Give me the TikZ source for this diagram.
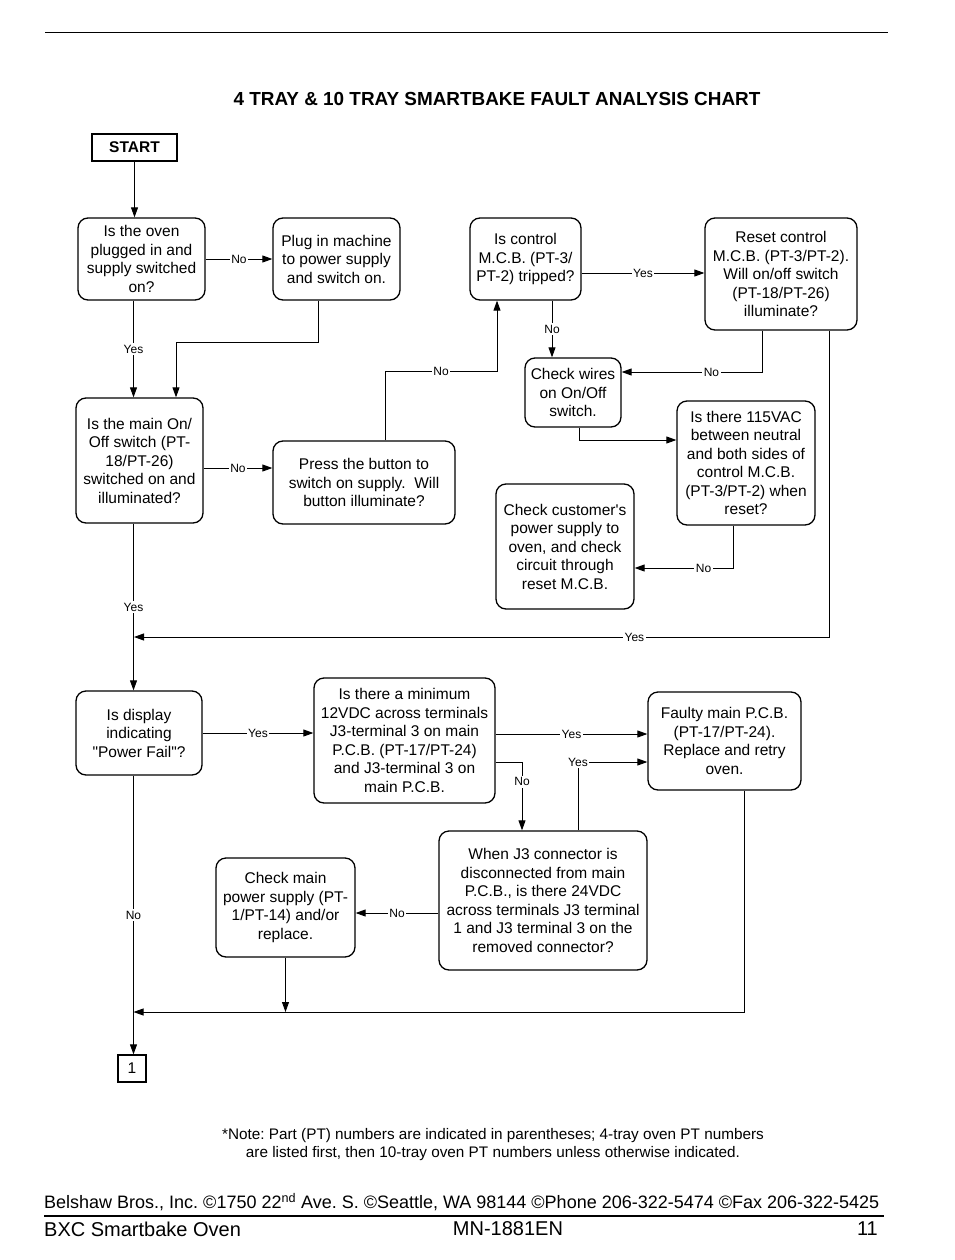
\documentclass[tikz,border=0pt]{standalone}
\usepackage{fontspec}
\setmainfont{Liberation Sans}[Ligatures=TeXOff]
\usetikzlibrary{arrows.meta}
\frenchspacing
\begin{document}
\begin{tikzpicture}[x=1pt,y=-1pt,
  box/.style={draw, line width=1.3pt, rounded corners=10pt, align=center, inner sep=1pt,
    font=\fontsize{15.5}{18.5}\selectfont},
  sqbox/.style={draw, line width=1.3pt, align=center, inner sep=1pt},
  conn/.style={line width=0.9pt, -{Triangle[length=10pt,width=7pt]}},
  lab/.style={fill=white, inner sep=1.5pt, font=\fontsize{12}{14}\selectfont}]
\useasboundingbox (0,0) rectangle (954,1260);
\fill[white] (0,0) rectangle (954,1260);
% top rule and title
\draw[line width=0.8pt] (45,32) -- (888,32);
\node[font=\bfseries\fontsize{18.9}{21}\selectfont] (title) at (497,99) {4 TRAY \& 10 TRAY SMARTBAKE FAULT ANALYSIS CHART};
% nodes
\node[sqbox, minimum width=85, minimum height=27, font=\bfseries\fontsize{15.5}{18}\selectfont] (start) at (134.5,147.5) {START};
\node[box, minimum width=127, minimum height=82] (b1) at (141.5,259) {Is the oven\\plugged in and\\supply switched\\on?};
\node[box, minimum width=127, minimum height=82] (b2) at (336.5,259) {Plug in machine\\to power supply\\and switch on.};
\node[box, minimum width=111, minimum height=82] (b3) at (525.5,259) {Is control\\M.C.B. (PT-3/\\PT-2) tripped?};
\node[box, minimum width=152, minimum height=112] (b4) at (781,274) {Reset control\\M.C.B. (PT-3/PT-2).\\Will on/off switch\\(PT-18/PT-26)\\illuminate?};
\node[box, minimum width=96, minimum height=69] (b5) at (573,392.5) {Check wires\\on On/Off\\switch.};
\node[box, minimum width=127, minimum height=125] (b6) at (139.5,460.5) {Is the main On/\\Off switch (PT-\\18/PT-26)\\switched on and\\illuminated?};
\node[box, minimum width=182, minimum height=83] (b7) at (364,482.5) {Press the button to\\switch on supply.~~Will\\button illuminate?};
\node[box, minimum width=138, minimum height=124] (b8) at (746,463) {Is there 115VAC\\between neutral\\and both sides of\\control M.C.B.\\(PT-3/PT-2) when\\reset?};
\node[box, minimum width=138, minimum height=125] (b9) at (565,546.5) {Check customer's\\power supply to\\oven, and check\\circuit through\\reset M.C.B.};
\node[box, minimum width=126, minimum height=84] (b10) at (139,733) {Is display\\indicating\\"Power Fail"?};
\node[box, minimum width=181, minimum height=125] (b11) at (404.5,740.5) {Is there a minimum\\12VDC across terminals\\J3-terminal 3 on main\\P.C.B. (PT-17/PT-24)\\and J3-terminal 3 on\\main P.C.B.};
\node[box, minimum width=153, minimum height=98] (b12) at (724.5,741) {Faulty main P.C.B.\\(PT-17/PT-24).\\Replace and retry\\oven.};
\node[box, minimum width=208, minimum height=139] (b13) at (543,900.5) {When J3 connector is\\disconnected from main\\P.C.B., is there 24VDC\\across terminals J3 terminal\\1 and J3 terminal 3 on the\\removed connector?};
\node[box, minimum width=139, minimum height=99] (b14) at (285.5,907.5) {Check main\\power supply (PT-\\1/PT-14) and/or\\replace.};
\node[sqbox, minimum width=28, minimum height=27, font=\fontsize{15.5}{18}\selectfont] (one) at (132,1068.5) {1};
% helper coordinates
\coordinate (colA) at (133.5,0);
\coordinate (hl) at (0,1012);
\coordinate (p2b) at ([xshift=-18.5pt]b2.south);
\coordinate (p6t) at ([xshift=36.5pt]b6.north);
\coordinate (p6) at ([yshift=-7.5pt]b6.east);
\coordinate (p7) at ([xshift=21pt]b7.north);
\coordinate (p3) at ([xshift=-28.5pt]b3.south);
\coordinate (p3r) at ([yshift=-14pt]b3.east);
\coordinate (p3b) at ([xshift=26.5pt]b3.south);
\coordinate (p4b) at ([xshift=-19pt]b4.south);
\coordinate (p5r) at ([yshift=20.5pt]b5.east);
\coordinate (p5b) at ([xshift=6pt]b5.south);
\coordinate (p8l) at ([yshift=23pt]b8.west);
\coordinate (p8b) at ([xshift=-13pt]b8.south);
\coordinate (p9r) at ([yshift=-21.5pt]b9.east);
\coordinate (p4b2) at ([xshift=48pt]b4.south);
\coordinate (j1) at (134,637);
\coordinate (p11r) at ([yshift=6.5pt]b11.east);
\coordinate (p11r2) at ([yshift=-21.5pt]b11.east);
\coordinate (p13t) at ([xshift=-21pt]b13.north);
\coordinate (p13t2) at ([xshift=35pt]b13.north);
\coordinate (p12l) at ([yshift=-21pt]b12.west);
\coordinate (p13l) at ([yshift=-12.5pt]b13.west);
\coordinate (p12b) at ([xshift=19.5pt]b12.south);
% connectors
\draw[conn] (start.south) -- (start.south |- b1.north);
\draw[conn] (b1.east) -- node[lab]{No} (b2.west);
\draw[conn] (b1.south -| colA) -- node[lab]{Yes} (b6.north -| colA);
\draw[conn] (p2b) -- ++(0,42) -| (p6t);
\draw[conn] (p6) -- node[lab]{No} (p6 -| b7.west);
\draw[conn] (p7) -- ++(0,-69) -| node[lab,pos=0.25]{No} (p3);
\draw[conn] (p3r) -- node[lab]{Yes} (p3r -| b4.west);
\draw[conn] (p3b) -- node[lab]{No} (p3b |- b5.north);
\draw[conn] (p4b) |- node[lab,pos=0.68]{No} (p5r);
\draw[conn] (p5b) |- (p8l);
\draw[conn] (p8b) |- node[lab,pos=0.65]{No} (p9r);
\draw[conn] (p4b2) |- node[lab,pos=0.64]{Yes} (j1);
\draw[conn] (b6.south -| colA) -- node[lab]{Yes} (b10.north -| colA);
\draw[conn] (b10.east) -- node[lab]{Yes} (b10.east -| b11.west);
\draw[conn] (p11r) -- node[lab]{Yes} (p11r -| b12.west);
\draw[conn] (p11r2) -| node[lab,pos=0.645]{No} (p13t);
\draw[conn] (p13t2) |- node[lab,pos=0.5]{Yes} (p12l);
\draw[conn] (p13l) -- node[lab]{No} (p13l -| b14.east);
\draw[conn] (b14.south) -- (b14.south |- hl);
\draw[conn] (p12b) |- (colA |- hl);
\draw[conn] (b10.south -| colA) -- node[lab]{No} (one.north -| colA);
% note and footer
\node[font=\fontsize{15.3}{18}\selectfont, align=center] (note) at (493,1145) {*Note: Part (PT) numbers are indicated in parentheses; 4-tray oven PT numbers\\are listed first, then 10-tray oven PT numbers unless otherwise indicated.};
\node[anchor=west, font=\fontsize{18}{20}\selectfont, inner sep=0pt] (addr) at (44,1202) {Belshaw Bros., Inc. ©1750 22\textsuperscript{nd} Ave. S. ©Seattle, WA 98144 ©Phone 206-322-5474 ©Fax 206-322-5425};
\draw[line width=1.8pt] (44,1216) -- (884,1216);
\node[anchor=west, font=\fontsize{20}{22}\selectfont, inner sep=0pt] (f1) at (44,1229) {BXC Smartbake Oven};
\node[font=\fontsize{20}{22}\selectfont, inner sep=0pt] (f2) at (508,1229) {MN-1881EN};
\node[anchor=east, font=\fontsize{20}{22}\selectfont, inner sep=0pt] (f3) at (878,1229) {11};
\end{tikzpicture}
\end{document}
